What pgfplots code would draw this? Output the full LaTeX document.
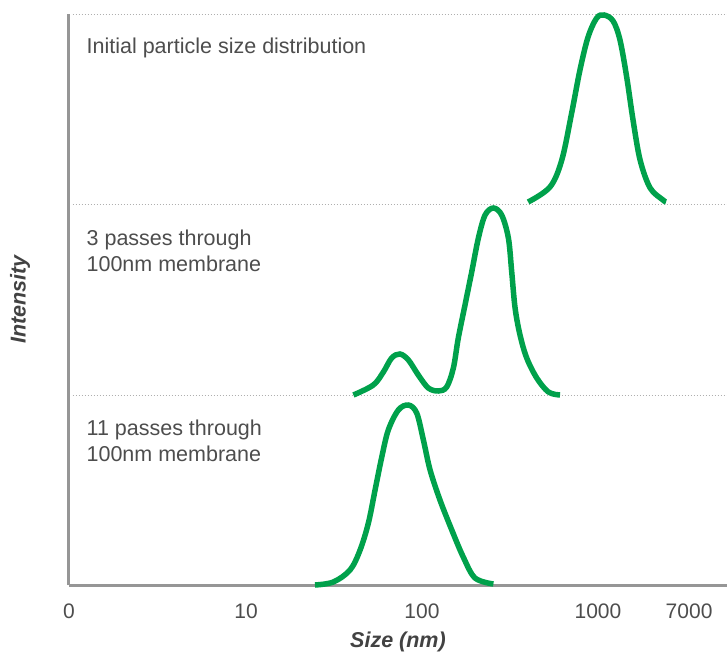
\documentclass[border=0pt]{standalone}
\usepackage{fontspec}
\setmainfont{Liberation Sans}
\usepackage{pgfplots}
\pgfplotsset{compat=1.18}
\definecolor{curve}{RGB}{0,161,75}
\definecolor{txt}{RGB}{77,77,77}
\definecolor{axgray}{RGB}{150,150,150}
\definecolor{dotgray}{RGB}{175,175,175}

\begin{document}
\begin{tikzpicture}
\begin{axis}[
    scale only axis,
    width=658pt, height=571pt,
    xmin=0, xmax=3.732,
    ymin=0, ymax=571,
    clip=false,
    axis x line=bottom, axis y line=left,
    x axis line style={draw=axgray, line width=3pt, -},
    y axis line style={draw=axgray, line width=3pt, -},
    ytick=\empty,
    xtick={0,1.004,2.002,3,3.517},
    xticklabels={0,10,100,1000,7000},
    major tick length=0pt,
    font=\fontsize{21.5}{26}\selectfont,
    ticklabel style={font=\fontsize{21}{25}\selectfont, text=txt},
    xticklabel style={yshift=-15pt},
    xlabel={\bfseries\itshape Size (nm)},
    ylabel={\bfseries\itshape Intensity},
    every axis x label/.style={at={(axis description cs:0.5,0)}, anchor=center, yshift=-57pt, text=txt!85!black},
    every axis y label/.style={at={(axis description cs:-0.0745,0.5)}, anchor=center, rotate=90, text=txt!85!black},
    dist/.style={line width=5.5pt, draw=curve, no marks, smooth, tension=0.55},
    base/.style={draw=dotgray, line width=1pt, dotted, no marks},
]
% dotted panel baselines
\addplot[base] coordinates {(0.02,570)(3.732,570)};
\addplot[base] coordinates {(0.02,380)(3.732,380)};
\addplot[base] coordinates {(0.02,190)(3.732,190)};

% initial distribution
\addplot[dist] coordinates {(2.604,383)(2.728,398)(2.795,425)(2.851,472)(2.898,515)(2.944,548)
  (2.993,567)(3.035,570)(3.086,564)(3.125,545)(3.163,508)(3.199,465)(3.239,425)
  (3.296,397)(3.369,385)(3.386,383)};

% 3 passes
\addplot[dist] coordinates {(1.613,190)(1.726,200)(1.783,213)(1.830,227)(1.877,231)(1.925,225)
  (1.981,210)(2.038,197)(2.095,194)(2.142,198)(2.180,217)(2.208,247)(2.246,280)
  (2.284,313)(2.322,347)(2.360,370)(2.407,377)(2.454,370)(2.492,347)(2.511,313)
  (2.530,277)(2.558,250)(2.596,227)(2.653,207)(2.719,193)(2.785,190)};

% 11 passes
\addplot[dist] coordinates {(1.395,0)(1.499,3)(1.594,15)(1.651,35)(1.698,62)(1.736,95)
  (1.774,128)(1.811,155)(1.868,175)(1.925,180)(1.972,172)(2.010,145)(2.048,115)
  (2.104,85)(2.171,55)(2.236,28)(2.303,7)(2.407,1)};

\node[anchor=base west, text=txt] at (axis cs:0.08,531) {Initial particle size distribution};
\node[anchor=base west, text=txt] at (axis cs:0.08,340) {3 passes through};
\node[anchor=base west, text=txt] at (axis cs:0.08,314) {100nm membrane};
\node[anchor=base west, text=txt] at (axis cs:0.08,150) {11 passes through};
\node[anchor=base west, text=txt] at (axis cs:0.08,124) {100nm membrane};
\end{axis}
\pgfresetboundingbox
\path[use as bounding box] (-69pt,-69pt) rectangle (658pt,585pt);
\end{tikzpicture}
\end{document}
